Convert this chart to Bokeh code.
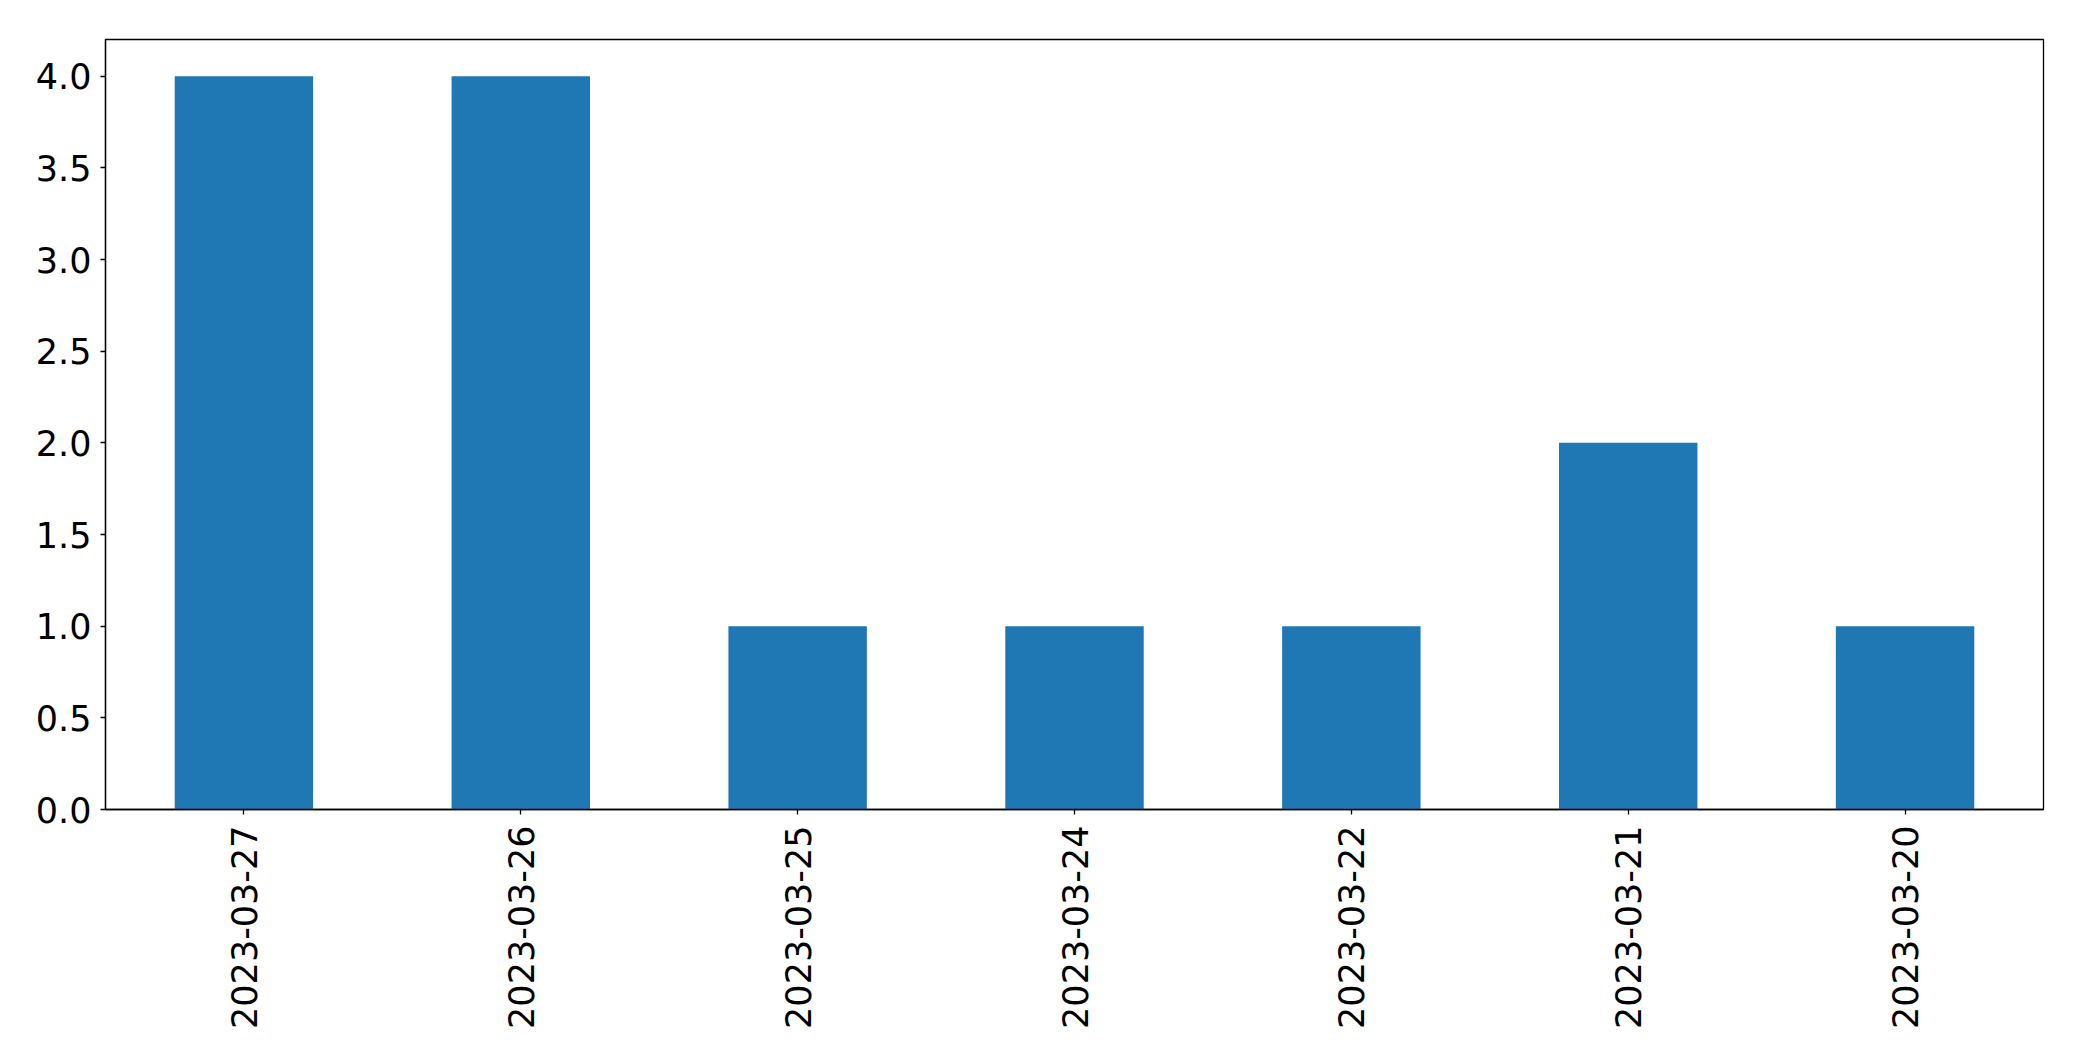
import math
from bokeh.plotting import figure
from bokeh.models import ColumnDataSource, FixedTicker, PrintfTickFormatter, FactorRange, Range1d
from bokeh.embed import file_html
from bokeh.resources import INLINE

dates = ["2023-03-27", "2023-03-26", "2023-03-25", "2023-03-24", "2023-03-22", "2023-03-21", "2023-03-20"]
counts = [4, 4, 1, 1, 1, 2, 1]
y_ticks = [0.0, 0.5, 1.0, 1.5, 2.0, 2.5, 3.0, 3.5, 4.0]

source = ColumnDataSource(dict(date=dates, count=counts))

p = figure(
    x_range=FactorRange(factors=dates, range_padding=0),
    y_range=Range1d(0, 4.2),
    frame_width=1938, frame_height=770,
    min_border_left=105, min_border_right=31, min_border_top=39, min_border_bottom=244,
    output_backend="svg", toolbar_location=None,
    background_fill_color="white", border_fill_color="white",
)

p.vbar(x="date", top="count", width=0.5, source=source, color="#1f77b4", line_color=None)

p.xgrid.visible = False
p.ygrid.visible = False
p.outline_line_color = "black"
p.outline_line_width = 1.3
p.outline_line_alpha = 1.0

for ax in (p.xaxis[0], p.yaxis[0]):
    ax.major_label_text_font = "DejaVu Sans"
    ax.major_label_text_font_size = "35px"
    ax.major_label_text_color = "black"
    ax.major_tick_out = 5
    ax.major_tick_in = 0
    ax.minor_tick_out = 0
    ax.minor_tick_in = 0
    ax.major_tick_line_color = "black"
    ax.major_tick_line_width = 1.3
    ax.axis_line_color = "black"
    ax.axis_line_width = 1.3

p.yaxis[0].ticker = FixedTicker(ticks=y_ticks)
p.yaxis[0].formatter = PrintfTickFormatter(format="%.1f")
p.yaxis[0].major_label_standoff = 9
p.xaxis[0].major_label_orientation = math.pi / 2
p.xaxis[0].major_label_standoff = 11

open("out.html", "w").write(file_html(p, INLINE))
